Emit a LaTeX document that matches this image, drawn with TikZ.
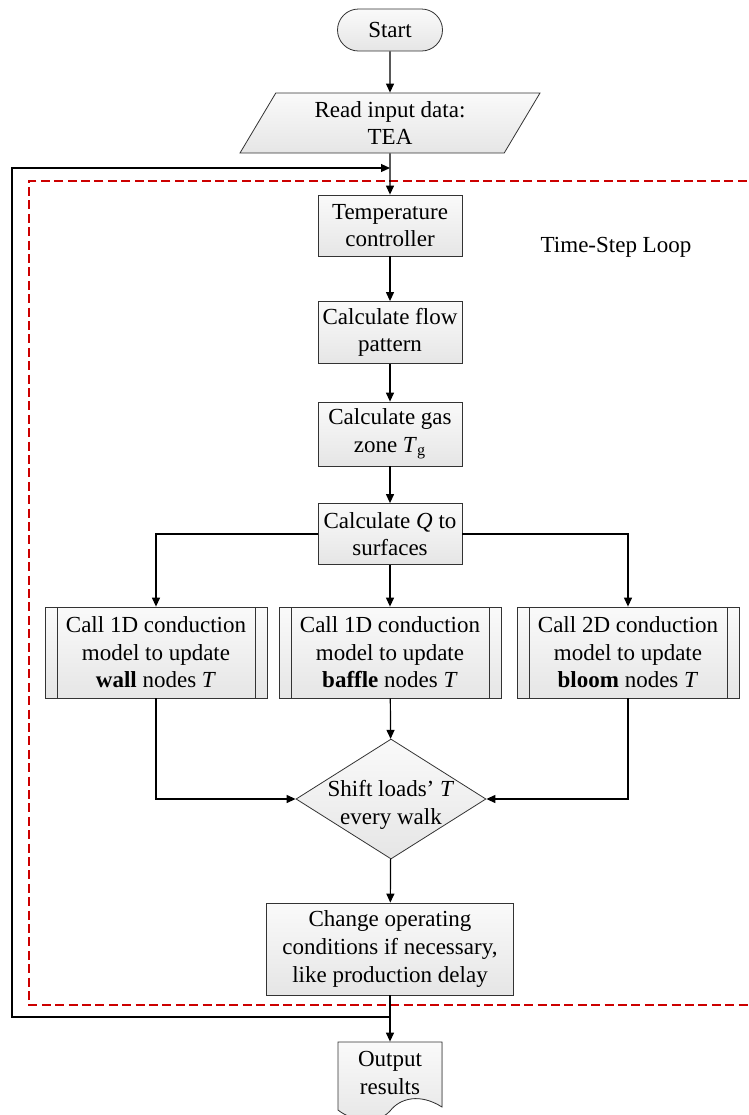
\documentclass[tikz,border=0pt]{standalone}
\usepackage{fontspec}
\setmainfont{Liberation Serif}
\usepackage{xcolor}
\usepackage{tikz}
\usetikzlibrary{arrows.meta, shapes.geometric, calc}

\begin{document}
\begin{tikzpicture}[x=0.5pt, y=-0.5pt,
    every node/.style={font=\fontsize{11.5pt}{13.8pt}\selectfont, align=center},
    boxfill/.style={top color=gray!4, bottom color=gray!20},
    procbox/.style={rectangle, draw=black!80, boxfill, inner xsep=2pt, minimum width=72pt, minimum height=30.5pt},
    termbox/.style={rectangle, rounded corners=10.5pt, draw=black!80, boxfill, minimum width=52.5pt, minimum height=21pt},
    iobox/.style={trapezium, trapezium left angle=63, trapezium right angle=117, trapezium stretches=true, draw=black!80, boxfill, minimum width=150pt, minimum height=30pt, inner sep=1pt},
    subbox/.style={rectangle, draw=black!80, boxfill, minimum width=111pt, minimum height=45.5pt,
      path picture={\draw[black!80] ([xshift=6pt]path picture bounding box.north west) -- ([xshift=6pt]path picture bounding box.south west);
        \draw[black!80] ([xshift=-6pt]path picture bounding box.north east) -- ([xshift=-6pt]path picture bounding box.south east);}},
    decbox/.style={diamond, draw=black!80, boxfill, inner sep=0pt, minimum width=95pt, minimum height=60pt},
    arr/.style={line width=0.6pt, -{Triangle[length=4.5pt, width=4pt]}},
    loopline/.style={red!80!black, line width=0.6pt, dash pattern=on 4.5pt off 2.2pt}]
  \useasboundingbox (0,0) rectangle (749,1115);
  % loop frame
  \draw[loopline] (760,181) -- (29,181) -- (29,1005) -- (760,1005);
  \node (looplbl) at (616,247) {Time-Step Loop};
  % main column
  \node[termbox] (start) at (390,30) {Start};
  \node[iobox] (read) at (390,123) {Read input data:\\TEA};
  \node[procbox] (tctrl) at (390,225.5) {Temperature\\controller};
  \node[procbox] (flow) at (390,332.5) {Calculate flow\\pattern};
  \node[procbox] (gas) at (390,434) {Calculate gas\\zone \textit{T}\textsubscript{g}};
  \node[procbox] (heat) at (390,534) {Calculate \textit{Q} to\\surfaces};
  \node[subbox] (wall) at (156,652.5) {Call 1D conduction\\model to update\\\textbf{wall} nodes \textit{T}};
  \node[subbox] (baffle) at (390,652.5) {Call 1D conduction\\model to update\\\textbf{baffle} nodes \textit{T}};
  \node[subbox] (bloom) at (628,652.5) {Call 2D conduction\\model to update\\\textbf{bloom} nodes \textit{T}};
  \node[decbox, label={[yshift=-3pt, align=center]center:Shift loads’ \textit{T}\\every walk}] (shift) at (391,799) {};
  \node[procbox, minimum width=123.5pt, minimum height=46pt, inner xsep=4pt] (change) at (390,949) {Change operating\\conditions if necessary,\\like production delay};
  % output document
  \filldraw[draw=black!80, boxfill] (338,1042) -- (442,1042) -- (442,1107) .. controls (420,1093) and (400,1098) .. (390,1111) .. controls (376,1126) and (352,1121) .. (338,1110) -- cycle;
  \node[minimum width=52pt, minimum height=31pt, inner sep=0pt] (out) at (390,1073) {Output\\results};
  % connectors
  \draw[arr] (start) -- (read);
  \draw[arr] (read) -- (tctrl);
  \draw[arr] (tctrl) -- (flow);
  \draw[arr] (flow) -- (gas);
  \draw[arr] (gas) -- (heat);
  \draw[arr] (heat.west) -| (wall.north);
  \draw[arr] (heat) -- (baffle);
  \draw[arr] (heat.east) -| (bloom.north);
  \draw[arr] (wall.south) |- (shift.west);
  \draw[arr] (baffle) -- (shift);
  \draw[arr] (bloom.south) |- (shift.east);
  \draw[arr] (shift) -- (change);
  \draw[arr] (change) -- (out);
  % time step loop back
  \coordinate (loopb) at (390,1017);
  \coordinate (loopt) at (390,168);
  \draw[arr] (loopb) -- (12,1017) -- (12,168) -- (loopt);
\end{tikzpicture}
\end{document}
